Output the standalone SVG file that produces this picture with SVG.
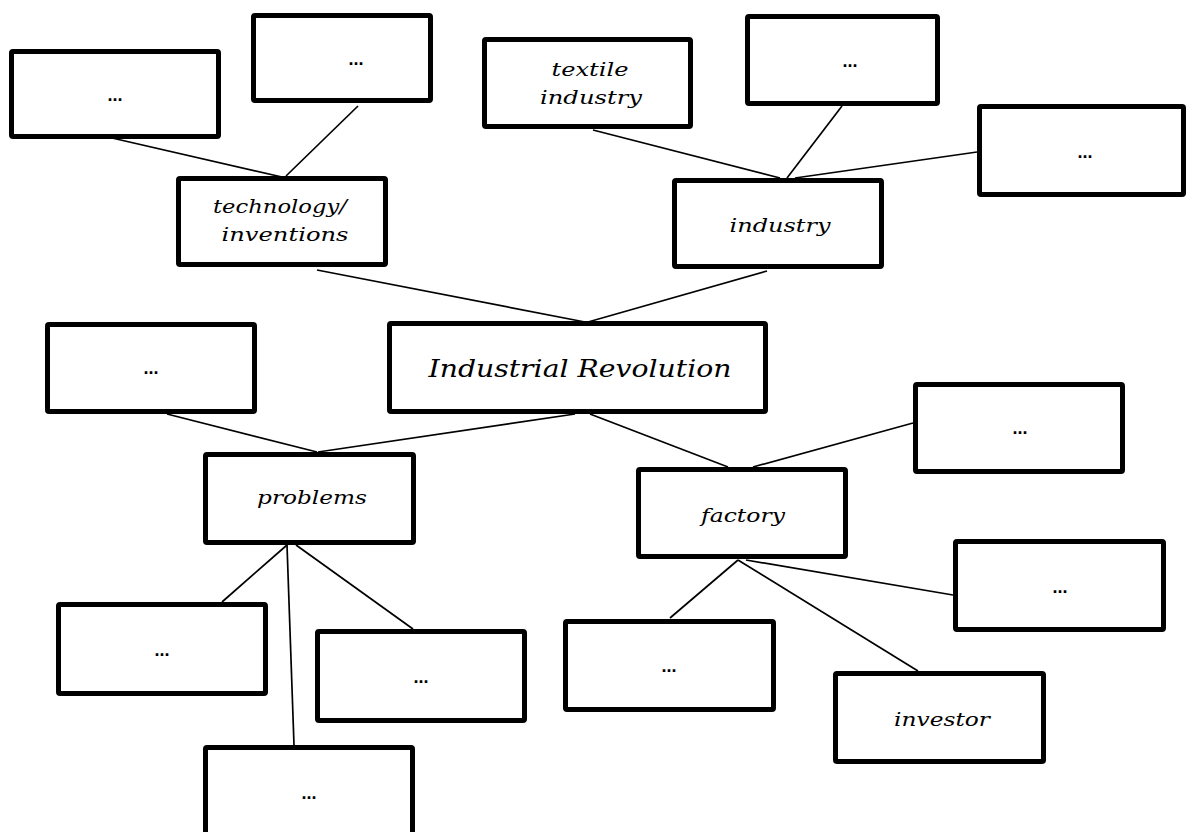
<svg xmlns="http://www.w3.org/2000/svg" width="1187" height="832" viewBox="0 0 1187 832">
<style>
.box{fill:#fff;stroke:#000;stroke-width:5;}
.lbl{font-family:"DejaVu Serif","Liberation Serif",serif;font-style:italic;font-size:19px;fill:#000;text-anchor:middle;}
.big{font-size:25px;}
.dots{font-family:"Liberation Sans",Arial,sans-serif;font-size:18px;font-weight:bold;fill:#000;text-anchor:middle;}
.con line{stroke:#000;stroke-width:1.7;fill:none;}
</style>
<rect width="1187" height="832" fill="#fff"/>
<g class="con" id="connectors">
<line x1="112" y1="138" x2="282" y2="177"/>
<line x1="358" y1="106" x2="286" y2="176"/>
<line x1="317" y1="270" x2="585" y2="322"/>
<line x1="767" y1="271" x2="588" y2="322"/>
<line x1="593" y1="130" x2="780" y2="178"/>
<line x1="842" y1="106" x2="787" y2="178"/>
<line x1="977" y1="152" x2="795" y2="178"/>
<line x1="575" y1="414" x2="318" y2="452"/>
<line x1="167" y1="414" x2="317" y2="452"/>
<line x1="590" y1="414" x2="728" y2="467"/>
<line x1="913" y1="423" x2="753" y2="467"/>
<line x1="287" y1="545" x2="222" y2="602"/>
<line x1="287" y1="545" x2="294" y2="745"/>
<line x1="296" y1="545" x2="413" y2="629"/>
<line x1="738" y1="560" x2="670" y2="618"/>
<line x1="738" y1="560" x2="918" y2="671"/>
<line x1="746" y1="560" x2="953" y2="595"/>
</g>
<g id="n1"><rect class="box" x="11.5" y="51.5" width="207" height="85" rx="1.5"/><text class="dots" x="115" y="101">...</text></g>
<g id="n2"><rect class="box" x="253.5" y="15.5" width="177" height="85" rx="1.5"/><text class="dots" x="356" y="65">...</text></g>
<g id="n_tech"><rect class="box" x="178.5" y="178.5" width="207" height="86" rx="1.5"/><text class="lbl" x="280" y="213" textLength="134" lengthAdjust="spacingAndGlyphs">technology/</text><text class="lbl" x="285" y="241" textLength="127" lengthAdjust="spacingAndGlyphs">inventions</text></g>
<g id="n_textile"><rect class="box" x="484.5" y="39.5" width="206" height="87" rx="1.5"/><text class="lbl" x="590" y="76" textLength="77" lengthAdjust="spacingAndGlyphs">textile</text><text class="lbl" x="591" y="104" textLength="102" lengthAdjust="spacingAndGlyphs">industry</text></g>
<g id="n3"><rect class="box" x="747.5" y="16.5" width="190" height="87" rx="1.5"/><text class="dots" x="850" y="67">...</text></g>
<g id="n_industry"><rect class="box" x="674.5" y="180.5" width="207" height="86" rx="1.5"/><text class="lbl" x="780" y="232" textLength="101" lengthAdjust="spacingAndGlyphs">industry</text></g>
<g id="n4"><rect class="box" x="979.5" y="106.5" width="204" height="88" rx="1.5"/><text class="dots" x="1085" y="158">...</text></g>
<g id="n5"><rect class="box" x="47.5" y="324.5" width="207" height="87" rx="1.5"/><text class="dots" x="151" y="374">...</text></g>
<g id="n_ir"><rect class="box" x="389.5" y="323.5" width="376" height="88" rx="1.5"/><text class="lbl big" x="580" y="377" textLength="303" lengthAdjust="spacingAndGlyphs">Industrial Revolution</text></g>
<g id="n_problems"><rect class="box" x="205.5" y="454.5" width="208" height="88" rx="1.5"/><text class="lbl" x="312" y="504" textLength="110" lengthAdjust="spacingAndGlyphs">problems</text></g>
<g id="n_factory"><rect class="box" x="638.5" y="469.5" width="207" height="87" rx="1.5"/><text class="lbl" x="743" y="522" textLength="84" lengthAdjust="spacingAndGlyphs">factory</text></g>
<g id="n6"><rect class="box" x="915.5" y="384.5" width="207" height="87" rx="1.5"/><text class="dots" x="1020" y="434">...</text></g>
<g id="n7"><rect class="box" x="955.5" y="541.5" width="208" height="88" rx="1.5"/><text class="dots" x="1060" y="593">...</text></g>
<g id="n8"><rect class="box" x="565.5" y="621.5" width="208" height="88" rx="1.5"/><text class="dots" x="669" y="672">...</text></g>
<g id="n_investor"><rect class="box" x="835.5" y="673.5" width="208" height="88" rx="1.5"/><text class="lbl" x="942" y="726" textLength="96" lengthAdjust="spacingAndGlyphs">investor</text></g>
<g id="n9"><rect class="box" x="58.5" y="604.5" width="207" height="89" rx="1.5"/><text class="dots" x="162" y="656">...</text></g>
<g id="n10"><rect class="box" x="317.5" y="631.5" width="207" height="89" rx="1.5"/><text class="dots" x="421" y="683">...</text></g>
<g id="n11"><rect class="box" x="205.5" y="747.5" width="207" height="95" rx="1.5"/><text class="dots" x="309" y="799">...</text></g>
</svg>
